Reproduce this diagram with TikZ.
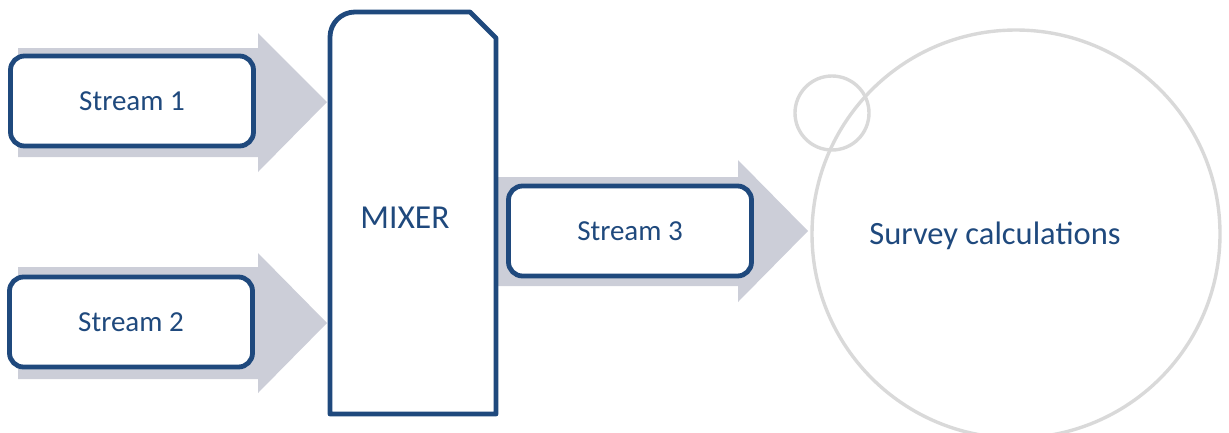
\documentclass[tikz,border=0pt]{standalone}
\usepackage{fontspec}
\setmainfont{Carlito}
\definecolor{streamblue}{RGB}{31,73,125}
\definecolor{flowgray}{RGB}{204,206,216}
\definecolor{ringgray}{RGB}{217,217,217}
\begin{document}
\begin{tikzpicture}[x=1pt,y=-1pt,
  flow/.style={fill=flowgray,draw=none},
  streambox/.style={draw=streamblue,line width=4.8pt,fill=white,rounded corners=14pt,
    minimum width=243pt,minimum height=90pt,inner sep=0pt,
    text=streamblue,font=\fontsize{29}{34}\selectfont},
  ring/.style={draw=ringgray,line width=3.4pt}]
\useasboundingbox (0,0) rectangle (1229,432);
\clip (0,0) rectangle (1229,432);

% flow arrows behind the stream boxes
\fill[flow] (18,48) -- (258,48) -- (258,33) -- (327,102) -- (258,172) -- (258,157) -- (18,157) -- cycle;
\fill[flow] (18,267) -- (258,267) -- (258,253) -- (327,323) -- (258,393) -- (258,379) -- (18,379) -- cycle;
\fill[flow] (497,177) -- (738,177) -- (738,160) -- (808,231) -- (738,302) -- (738,286) -- (497,286) -- cycle;

% stream boxes
\node[streambox] (s1) at (132,101) {Stream 1};
\node[streambox] (s2) at (131,322) {Stream 2};
\node[streambox] (s3) at (630,231) {Stream 3};

% mixer vessel: rounded top-left, chamfered top-right
\draw[streamblue,line width=4.8pt,fill=white,line join=round]
  (330,414) -- (330,37) arc[start angle=180,end angle=270,radius=25] -- (470,12) -- (496,38) -- (496,414) -- cycle;
\node[text=streamblue,font=\fontsize{33.5}{38}\selectfont] (mixer) at (405,218) {MIXER};

% survey circles
\draw[ring] (1016,234) circle[radius=204];
\draw[ring] (832,113) circle[radius=37];
\node[text=streamblue,font=\fontsize{32.5}{38}\selectfont] (survey) at (995,236) {Survey calculations};
\end{tikzpicture}
\end{document}
